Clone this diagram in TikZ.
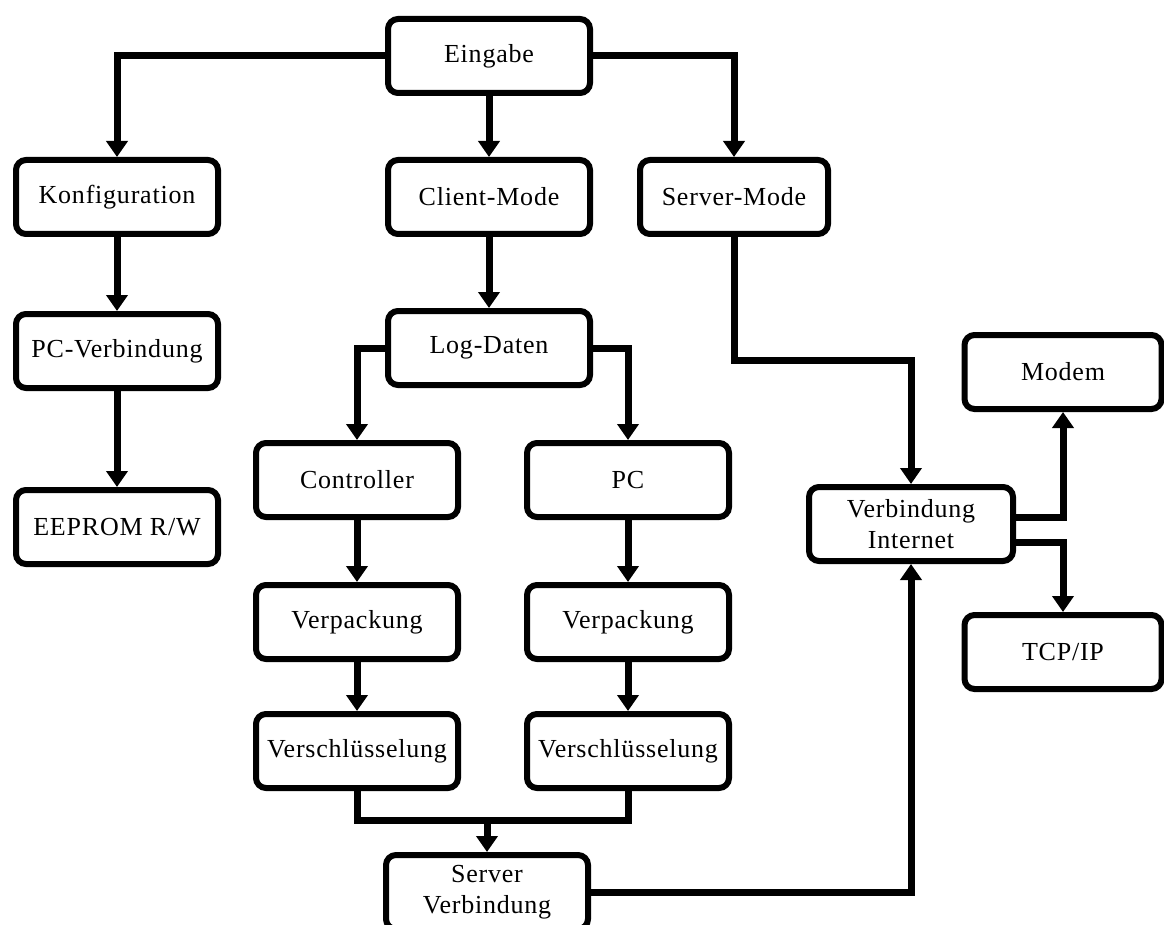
\documentclass[tikz,border=0pt]{standalone}
\usepackage{fontspec}
\setmainfont{Liberation Serif}[LetterSpace=3]
\usetikzlibrary{arrows.meta}
\begin{document}
\begin{tikzpicture}[x=1pt,y=-1pt,
  blk/.style={draw=black, line width=6pt, rounded corners=10pt, fill=white,
    minimum width=202pt, minimum height=74pt, inner sep=0pt, align=center,
    font=\fontsize{26}{30.5}\selectfont},
  link/.style={draw=black, line width=7pt},
  arr/.style={link, -{Triangle[width=21pt,length=16pt]}}]
  \useasboundingbox (0,0) rectangle (1164,925);
  \clip (0,0) rectangle (1164,925);

  % top level
  \node[blk] (eingabe) at (489,56) {Eingabe};
  \node[blk] (konfig) at (117,197) {Konfiguration};
  \node[blk] (client) at (489,197) {Client-Mode};
  \node[blk, minimum width=188pt] (servermode) at (734,197) {Server-Mode};

  % configuration branch
  \node[blk] (pcverb) at (117,351) {PC-Verbindung};
  \node[blk] (eeprom) at (117,527) {EEPROM R/W};

  % client branch
  \node[blk] (logdaten) at (489,348) {Log-Daten};
  \node[blk] (controller) at (357,480) {Controller};
  \node[blk] (pc) at (628,480) {PC};
  \node[blk] (verp1) at (357,622) {Verpackung};
  \node[blk] (verp2) at (628,622) {Verpackung};
  \node[blk] (versch1) at (357,751) {Verschlüsselung};
  \node[blk] (versch2) at (628,751) {Verschlüsselung};
  \node[blk] (serververb) at (487,892) {Server\\Verbindung};

  % server / network branch
  \node[blk, minimum width=204pt] (internet) at (911,524) {Verbindung\\Internet};
  \node[blk, minimum width=197pt] (modem) at (1063,372) {Modem};
  \node[blk, minimum width=197pt] (tcpip) at (1063,652) {TCP/IP};

  \coordinate (merge) at (487,820);
  \coordinate (bend) at (734,360);

  % connectors
  \draw[arr] (eingabe.west) -| (konfig.north);
  \draw[arr] (eingabe.south) -- (client.north);
  \draw[arr] (eingabe.east) -| (servermode.north);

  \draw[arr] (konfig.south) -- (pcverb.north);
  \draw[arr] (pcverb.south) -- (eeprom.north);

  \draw[arr] (client.south) -- (logdaten.north);
  \draw[arr] (logdaten.west) -| (controller.north);
  \draw[arr] (logdaten.east) -| (pc.north);
  \draw[arr] (controller.south) -- (verp1.north);
  \draw[arr] (pc.south) -- (verp2.north);
  \draw[arr] (verp1.south) -- (versch1.north);
  \draw[arr] (verp2.south) -- (versch2.north);
  \draw[link] (versch1.south) |- (merge) -| (versch2.south);
  \draw[arr] (merge) -- (serververb.north);

  \draw[arr] (servermode.south) -- (bend) -| (internet.north);
  \draw[arr] (serververb.east) -| (internet.south);
  \draw[arr] ([yshift=7pt]internet.east) -| (modem.south);
  \draw[arr] ([yshift=-18pt]internet.east) -| (tcpip.north);
\end{tikzpicture}
\end{document}
